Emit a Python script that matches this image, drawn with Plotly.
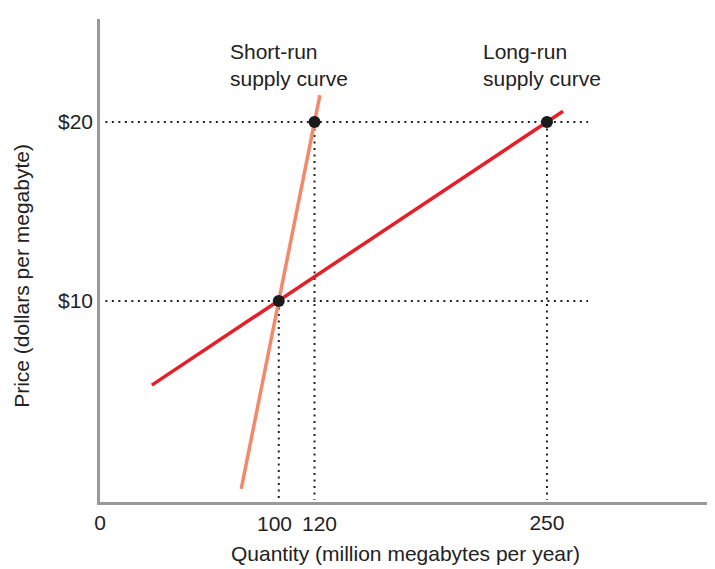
import plotly.graph_objects as go

# Data (quantity in million megabytes/year, price in $/megabyte)
short_run_q = [79, 123]
short_run_p = [-0.5, 21.5]
long_run_q = [29, 259]
long_run_p = [5.3, 20.6]
points_q = [100, 120, 250]
points_p = [10, 20, 20]
x_tick_vals = [0, 100, 120, 250]
x_tick_text = ["0", "100", "120", "250"]
y_tick_vals = [10, 20]
y_tick_text = ["$10", "$20"]
guide_price_levels = [10, 20]
guide_q_end = 273

FONT = "Liberation Sans, Arial, sans-serif"
DOT = "#222222"
DASH = "2px,4.5px"

fig = go.Figure()

for p in guide_price_levels:
    fig.add_trace(go.Scatter(x=[3, guide_q_end], y=[p, p], mode="lines",
                             line=dict(color=DOT, width=2, dash=DASH),
                             hoverinfo="skip", showlegend=False))
for q, p in zip(points_q, points_p):
    fig.add_trace(go.Scatter(x=[q, q], y=[p, -1.1], mode="lines",
                             line=dict(color=DOT, width=2, dash=DASH),
                             hoverinfo="skip", showlegend=False))

fig.add_trace(go.Scatter(x=short_run_q, y=short_run_p, mode="lines",
                         line=dict(color="#f3886a", width=3.5),
                         name="Short-run supply curve", showlegend=False))
fig.add_trace(go.Scatter(x=long_run_q, y=long_run_p, mode="lines",
                         line=dict(color="#e51f28", width=3.5),
                         name="Long-run supply curve", showlegend=False))
fig.add_trace(go.Scatter(x=points_q, y=points_p, mode="markers",
                         marker=dict(color="#1a1a1a", size=12),
                         showlegend=False))

# x tick labels: the two close ones are drawn as annotations pushed apart
axis_ticks_v, axis_ticks_t = [], []
close_pair = (100, 120)
for v, t in zip(x_tick_vals, x_tick_text):
    if v in close_pair:
        left = v == close_pair[0]
        fig.add_annotation(x=v, y=-0.0435, xref="x", yref="paper",
                           xanchor="right" if left else "left", yanchor="middle",
                           xshift=14 if left else -14, text=t, showarrow=False,
                           borderpad=0, font=dict(family=FONT, size=21, color="#222"))
    else:
        axis_ticks_v.append(v)
        axis_ticks_t.append(t)

fig.add_annotation(x=71.4, y=24.7, xref="x", yref="y", xanchor="left", yanchor="top",
                   text="Short-run<br>supply curve", showarrow=False, align="left",
                   font=dict(family=FONT, size=21, color="#222"))
fig.add_annotation(x=213, y=24.7, xref="x", yref="y", xanchor="left", yanchor="top",
                   text="Long-run<br>supply curve", showarrow=False, align="left",
                   font=dict(family=FONT, size=21, color="#222"))

fig.add_annotation(x=0.496, y=-0.1056, xref="paper", yref="paper", xanchor="center", yanchor="middle",
                   text="Quantity (million megabytes per year)", showarrow=False,
                   font=dict(family=FONT, size=21, color="#222"))
fig.add_annotation(x=-0.127, y=0.468, xref="paper", yref="paper", xanchor="center", yanchor="middle",
                   text="Price (dollars per megabyte)", showarrow=False, textangle=-90,
                   font=dict(family=FONT, size=21, color="#222"))

# top light band
fig.add_shape(type="rect", xref="paper", yref="paper", x0=-0.2, x1=1.05,
              y0=1.033, y1=1.05, fillcolor="#e0f2ea", line=dict(width=0), layer="below")

fig.update_layout(
    width=715, height=569,
    margin=dict(l=92, r=8, t=11, b=75),
    plot_bgcolor="white", paper_bgcolor="white",
    font=dict(family=FONT, size=21, color="#222"),
    xaxis=dict(range=[0, 344], tickvals=axis_ticks_v, ticktext=axis_ticks_t,
               showgrid=False, zeroline=False, showline=True, linecolor="#999",
               linewidth=2.5, ticks="", ticklen=0, tickangle=0, tickfont=dict(size=21)),
    yaxis=dict(range=[-1.23, 25.75], tickvals=y_tick_vals, ticktext=y_tick_text,
               showgrid=False, zeroline=False, showline=True, linecolor="#999",
               linewidth=2.5, ticks="", tickfont=dict(size=21)),
)

fig.write_html("out.html")
